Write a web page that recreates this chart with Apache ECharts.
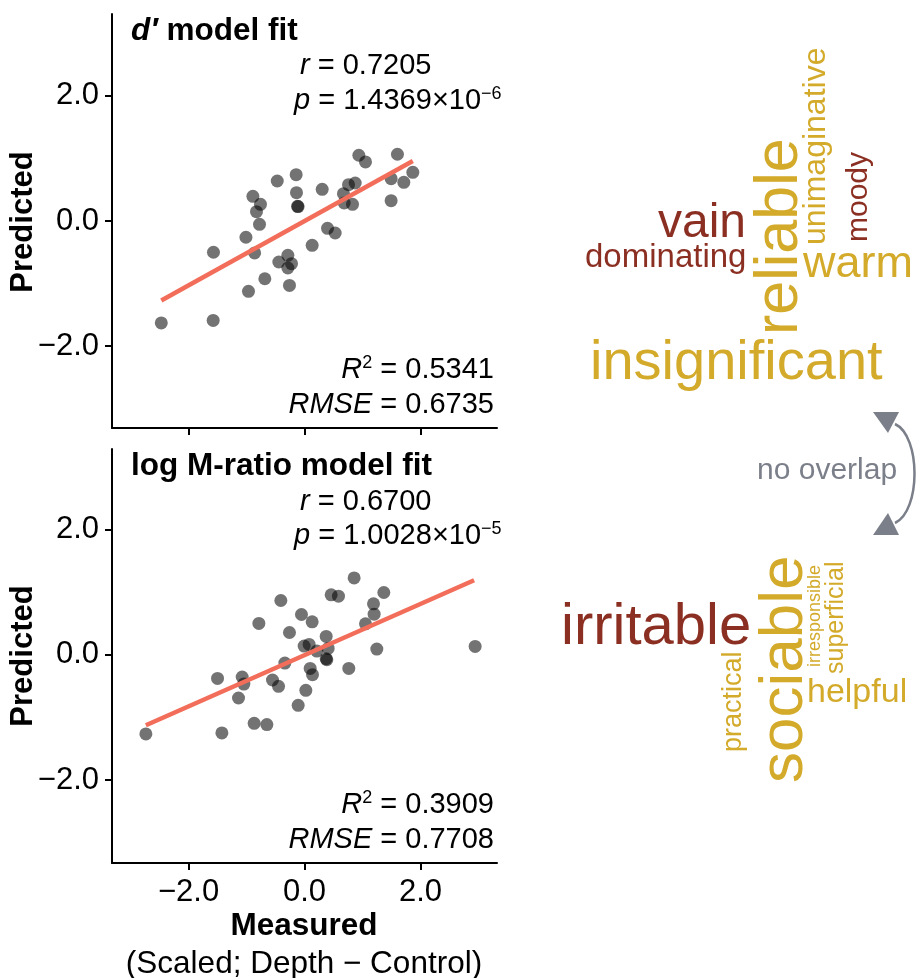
<!DOCTYPE html>
<html>
<head>
<meta charset="utf-8">
<script src="https://cdn.jsdelivr.net/npm/echarts@6/dist/echarts.min.js"></script>
<style>
html,body{margin:0;padding:0;background:#fff;}
#c{width:917px;height:978px;}
</style>
</head>
<body>
<div id="c"></div>
<script>
// ---- data ----
const dMeasured  = [-2.47,-1.575,-1.57,-0.966,-0.684,-1.01,-0.86,-0.776,-0.828,-0.759,-0.89,-0.47,-0.144,-0.138,-0.12,-0.11,-0.443,-0.287,-0.287,-0.224,-0.259,0.132,0.305,0.397,0.529,0.672,0.684,0.759,0.828,0.874,0.937,1.052,1.494,1.494,1.603,1.713,1.868];
const dPredicted = [-1.63,-1.59,-0.50,-1.125,-0.923,-0.26,-0.51,-0.053,0.149,0.267,0.395,0.64,0.741,0.453,0.235,0.23,-0.656,-0.549,-0.752,-0.683,-1.03,-0.389,0.507,-0.117,-0.192,0.437,0.288,0.581,0.267,0.608,1.051,0.944,0.325,0.677,1.067,0.619,0.779];
const mMeasured  = [-2.736,-1.425,-1.5,-1.138,-1.075,-1.046,-0.868,-0.649,-0.787,-0.408,-0.259,-0.339,-0.552,-0.448,-0.109,0.023,-0.052,0.132,-0.006,0.08,0.213,0.098,0.138,0.374,0.408,0.374,0.385,0.46,0.586,0.764,0.856,1.052,1.201,1.19,1.247,1.368,2.943];
const mPredicted = [-1.263,-1.247,-0.377,-0.69,-0.355,-0.467,-1.093,-1.114,0.499,0.865,0.355,-0.133,-0.403,-0.504,-0.806,-0.568,0.642,0.525,0.138,0.164,0.058,-0.218,-0.318,0.292,0.101,-0.064,-0.08,0.955,0.934,-0.218,1.225,0.493,0.647,0.812,0.09,0.992,0.133];
const dFitX = [-2.47, 1.868];
const dFitY = [-1.27, 0.96];
const mFitX = [-2.736, 2.925];
const mFitY = [-1.125, 1.188];
const xTicks = [-2, 0, 2];
const yTicks = [-2, 0, 2];
const topWords    = ['insignificant','vain','dominating','warm','reliable','unimaginative','moody'];
const bottomWords = ['irritable','helpful','sociable','irresponsible','superficial','practical'];

// ---- layout / style ----
const FONT = '"Liberation Sans", Arial, Helvetica, sans-serif';
const GOLD = '#D3AA2A', RED = '#8B2F22', GREY = '#7b7f89';
// [left or baseline-x, baseline-y or start-y, fontSize, rotated, colour]
const topLayout = [
  [590, 380, 56, false, GOLD],
  [658, 238, 48, false, RED],
  [585, 268, 33, false, RED],
  [803, 278, 45, false, GOLD],
  [798, 335, 61, true, GOLD],
  [826, 245, 32, true, GOLD],
  [868, 242, 30, true, RED]
];
const bottomLayout = [
  [561, 645, 58, false, RED],
  [807, 703, 34, false, GOLD],
  [804, 783, 62, true, GOLD],
  [820, 667, 18, true, GOLD],
  [844, 674, 25, true, GOLD],
  [742, 752, 27, true, GOLD]
];
const MID = 0.30;

function fmt(v){ return (v < 0 ? '\u2212' + Math.abs(v).toFixed(1) : v.toFixed(1)); }
function pairs(xs, ys){ return xs.map((x,i)=>[x, ys[i]]); }

function wordEl(word, L){
  const [a, b, f, rot, col] = L;
  const base = {type:'text', silent:true, style:{text:word, fill:col, fontSize:f, fontFamily:FONT, align:'left', verticalAlign:'middle'}};
  if (!rot) { base.x = a; base.y = b - MID*f; }
  else { base.x = a - MID*f; base.y = b; base.rotation = Math.PI/2; }
  return base;
}

const axisLineStyle = {color:'#000', width:2};
function xAx(grid, showLabels){
  return {gridIndex:grid, type:'value', min:-3.32, max:3.32,
    axisLine:{show:true, onZero:false, lineStyle:axisLineStyle},
    axisTick:{show:true, length:7, customValues:xTicks, lineStyle:axisLineStyle},
    axisLabel:{show:showLabels, customValues:xTicks, formatter:fmt, fontSize:31, color:'#000', fontFamily:FONT, margin:14},
    splitLine:{show:false}};
}
function yAx(grid, mn, mx){
  return {gridIndex:grid, type:'value', min:mn, max:mx,
    axisLine:{show:true, onZero:false, lineStyle:axisLineStyle},
    axisTick:{show:true, length:7, customValues:yTicks, lineStyle:axisLineStyle},
    axisLabel:{show:true, customValues:yTicks, formatter:fmt, fontSize:31, color:'#000', fontFamily:FONT, margin:13},
    splitLine:{show:false}};
}

const richBase = {
  i:{fontStyle:'italic', fontSize:29, fontFamily:FONT, color:'#000', lineHeight:32},
  s:{fontSize:18, fontFamily:FONT, color:'#000', verticalAlign:'top', lineHeight:18},
  bi:{fontStyle:'italic', fontWeight:'bold', fontSize:31.5, fontFamily:FONT, color:'#000', lineHeight:32}
};
function ann(text, x, y, align, opts){
  return {type:'text', silent:true, x:x, y:y,
    style:Object.assign({text:text, fill:'#000', fontSize:29, fontFamily:FONT, align:align, verticalAlign:'middle', lineHeight:32, rich:richBase}, opts||{})};
}

const graphics = [
  // panel annotations (top)
  ann('{bi|d\u2032} model fit', 131, 31, 'left', {fontWeight:'bold', fontSize:31.5}),
  ann('{i|r} = 0.7205', 300, 66, 'left'),
  ann('{i|p} = 1.4369\u00d710{s|\u22126}', 294, 101, 'left'),
  ann('{i|R}{s|2} = 0.5341', 494, 370, 'right'),
  ann('{i|RMSE} = 0.6735', 494, 405, 'right'),
  // panel annotations (bottom)
  ann('log M-ratio model fit', 131, 466, 'left', {fontWeight:'bold', fontSize:31.5}),
  ann('{i|r} = 0.6700', 300, 502, 'left'),
  ann('{i|p} = 1.0028\u00d710{s|\u22125}', 294, 536, 'left'),
  ann('{i|R}{s|2} = 0.3909', 494, 805, 'right'),
  ann('{i|RMSE} = 0.7708', 494, 840, 'right'),
  // axis titles
  {type:'text', silent:true, x:23, y:222, rotation:Math.PI/2, style:{text:'Predicted', fontSize:31, fontWeight:'bold', fontFamily:FONT, fill:'#000', align:'center', verticalAlign:'middle'}},
  {type:'text', silent:true, x:23, y:656, rotation:Math.PI/2, style:{text:'Predicted', fontSize:31, fontWeight:'bold', fontFamily:FONT, fill:'#000', align:'center', verticalAlign:'middle'}},
  {type:'text', silent:true, x:304, y:926, style:{text:'Measured', fontSize:31.5, fontWeight:'bold', fontFamily:FONT, fill:'#000', align:'center', verticalAlign:'middle'}},
  {type:'text', silent:true, x:304, y:964, style:{text:'(Scaled; Depth \u2212 Control)', fontSize:31.5, fontFamily:FONT, fill:'#000', align:'center', verticalAlign:'middle'}},
  // no overlap arrow
  {type:'text', silent:true, x:757, y:480 - MID*30, style:{text:'no overlap', fontSize:30, fontFamily:FONT, fill:GREY, align:'left', verticalAlign:'middle'}},
  {type:'bezierCurve', silent:true, shape:{x1:895, y1:424, cpx1:921, cpy1:436, cpx2:921, cpy2:511, x2:895, y2:523}, style:{stroke:GREY, lineWidth:2.5, fill:null}},
  {type:'polygon', silent:true, shape:{points:[[873,412],[899,412],[888,433]]}, style:{fill:GREY}},
  {type:'polygon', silent:true, shape:{points:[[873,535],[899,535],[888,513]]}, style:{fill:GREY}}
];
topWords.forEach((w,i)=>graphics.push(wordEl(w, topLayout[i])));
bottomWords.forEach((w,i)=>graphics.push(wordEl(w, bottomLayout[i])));

const scatterStyle = {color:'#000', opacity:0.55};
const fitStyle = {color:'#f36e5a', width:4.5};

const option = {
  animation:false,
  backgroundColor:'#fff',
  grid:[
    {left:112, top:14, width:385, height:414},
    {left:112, top:449, width:385, height:414}
  ],
  xAxis:[xAx(0,false), xAx(1,true)],
  yAxis:[yAx(0,-3.31,3.31), yAx(1,-3.32,3.28)],
  series:[
    {type:'scatter', xAxisIndex:0, yAxisIndex:0, symbol:'circle', symbolSize:13, itemStyle:scatterStyle, data:pairs(dMeasured,dPredicted), z:2},
    {type:'line', xAxisIndex:0, yAxisIndex:0, symbol:'none', lineStyle:fitStyle, data:pairs(dFitX,dFitY), z:3, silent:true},
    {type:'scatter', xAxisIndex:1, yAxisIndex:1, symbol:'circle', symbolSize:13, itemStyle:scatterStyle, data:pairs(mMeasured,mPredicted), z:2},
    {type:'line', xAxisIndex:1, yAxisIndex:1, symbol:'none', lineStyle:fitStyle, data:pairs(mFitX,mFitY), z:3, silent:true}
  ],
  graphic:graphics
};
const chart = echarts.init(document.getElementById('c'), null, {renderer:'canvas'});
chart.setOption(option);
</script>
</body>
</html>
